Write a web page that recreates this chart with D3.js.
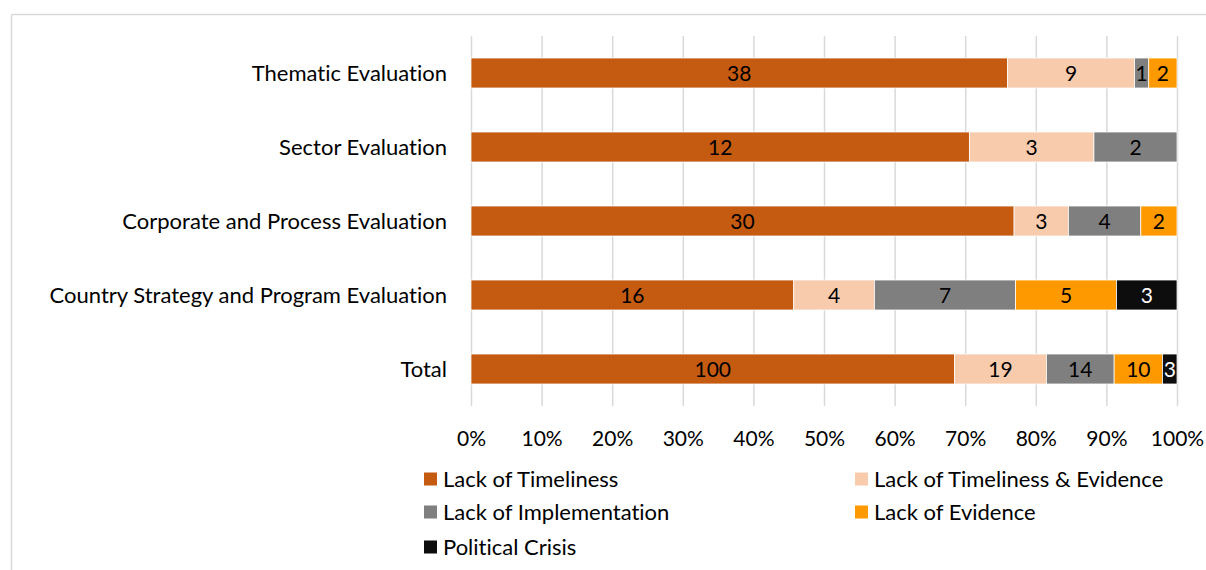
<!DOCTYPE html>
<html>
<head>
<meta charset="utf-8">
<script src="https://cdn.jsdelivr.net/npm/d3@7"></script>
<style>
  html, body { margin: 0; padding: 0; background: #fff; }
  svg { display: block; }
  text { font-family: Lato, "Open Sans", sans-serif; font-variant-ligatures: none; font-feature-settings: "liga" 0, "clig" 0; }
</style>
</head>
<body>
<svg id="chart" width="1206" height="570"></svg>
<script>
// Evaluation categories, top to bottom
const categories = [
  "Thematic Evaluation",
  "Sector Evaluation",
  "Corporate and Process Evaluation",
  "Country Strategy and Program Evaluation",
  "Total"
];

// Series names (stack order, left to right)
const seriesNames = [
  "Lack of Timeliness",
  "Lack of Timeliness & Evidence",
  "Lack of Implementation",
  "Lack of Evidence",
  "Political Crisis"
];

// Counts per category for each series
const lackOfTimeliness         = [38, 12, 30, 16, 100];
const lackOfTimelinessEvidence = [9, 3, 3, 4, 19];
const lackOfImplementation     = [1, 2, 4, 7, 14];
const lackOfEvidence           = [2, 0, 2, 5, 10];
const politicalCrisis          = [0, 0, 0, 3, 3];

const tickValues = [0, 0.1, 0.2, 0.3, 0.4, 0.5, 0.6, 0.7, 0.8, 0.9, 1.0];

const colors = ["#C55A11", "#F8CBAD", "#7F7F7F", "#FF9900", "#0D0D0D"];
const labelColors = ["#000", "#000", "#000", "#000", "#fff"];

const seriesValues = [lackOfTimeliness, lackOfTimelinessEvidence, lackOfImplementation, lackOfEvidence, politicalCrisis];

// Build rows for d3.stack, normalised to 100%
const rows = categories.map((c, i) => {
  const row = { category: c };
  seriesNames.forEach((s, j) => { row[s] = seriesValues[j][i]; });
  return row;
});

const stack = d3.stack().keys(seriesNames).offset(d3.stackOffsetExpand);
const stacked = stack(rows);

const svg = d3.select("#chart");

// Outer chart frame (left and top edges visible)
svg.append("line").attr("x1", 11.5).attr("x2", 11.5).attr("y1", 14.5).attr("y2", 570)
  .attr("stroke", "#D9D9D9").attr("stroke-width", 1.5);
svg.append("line").attr("x1", 11.5).attr("x2", 1206).attr("y1", 14.5).attr("y2", 14.5)
  .attr("stroke", "#D9D9D9").attr("stroke-width", 1.5);

const x = d3.scaleLinear().domain([0, 1]).range([471, 1177]);
const y = d3.scaleBand().domain(categories).range([36, 406]).paddingInner(0.595).paddingOuter(0.2975);

// Vertical gridlines
svg.append("g").selectAll("line").data(tickValues).join("line")
  .attr("x1", d => x(d) + 0.5).attr("x2", d => x(d) + 0.5)
  .attr("y1", 36).attr("y2", 406)
  .attr("stroke", "#D9D9D9").attr("stroke-width", 1.5);

// X axis tick labels
svg.append("g").selectAll("text").data(tickValues).join("text")
  .attr("x", d => x(d) + 0.5).attr("y", 446)
  .attr("text-anchor", "middle")
  .attr("font-size", 21).attr("fill", "#000")
  .text(d => d3.format(".0%")(d));

// Category labels
svg.append("g").selectAll("text").data(categories).join("text")
  .attr("x", 447).attr("y", d => y(d) + y.bandwidth() / 2)
  .attr("dy", "0.35em")
  .attr("text-anchor", "end")
  .attr("font-size", 22).attr("fill", "#000")
  .text(d => d);

// Stacked bars
const layers = svg.append("g").selectAll("g").data(stacked).join("g")
  .attr("fill", (d, i) => colors[i]);

layers.selectAll("rect").data(d => d.map(p => ({ p, key: d.key }))).join("rect")
  .attr("x", d => x(d.p[0]))
  .attr("y", d => y(d.p.data.category))
  .attr("width", d => Math.max(0, x(d.p[1]) - x(d.p[0])))
  .attr("height", y.bandwidth())
  .attr("stroke", "#fff").attr("stroke-width", 0.75);

// Value labels inside segments
stacked.forEach((layer, i) => {
  svg.append("g").selectAll("text")
    .data(layer.filter(p => p.data[layer.key] > 0))
    .join("text")
    .attr("x", p => (x(p[0]) + x(p[1])) / 2)
    .attr("y", p => y(p.data.category) + y.bandwidth() / 2)
    .attr("dy", "0.36em")
    .attr("text-anchor", "middle")
    .attr("font-size", 21)
    .attr("fill", labelColors[i])
    .text(p => p.data[layer.key]);
});

// Legend
const legendPos = [
  [424, 479], [855, 479],
  [424, 512], [855, 512],
  [424, 547]
];
const legend = svg.append("g").selectAll("g").data(seriesNames).join("g")
  .attr("transform", (d, i) => `translate(${legendPos[i][0]},${legendPos[i][1]})`);
legend.append("rect")
  .attr("x", 0).attr("y", -6.5).attr("width", 13).attr("height", 13)
  .attr("fill", (d, i) => colors[i]);
legend.append("text")
  .attr("x", 19).attr("y", 0).attr("dy", "0.35em")
  .attr("font-size", 22).attr("fill", "#000")
  .text(d => d);
</script>
</body>
</html>
